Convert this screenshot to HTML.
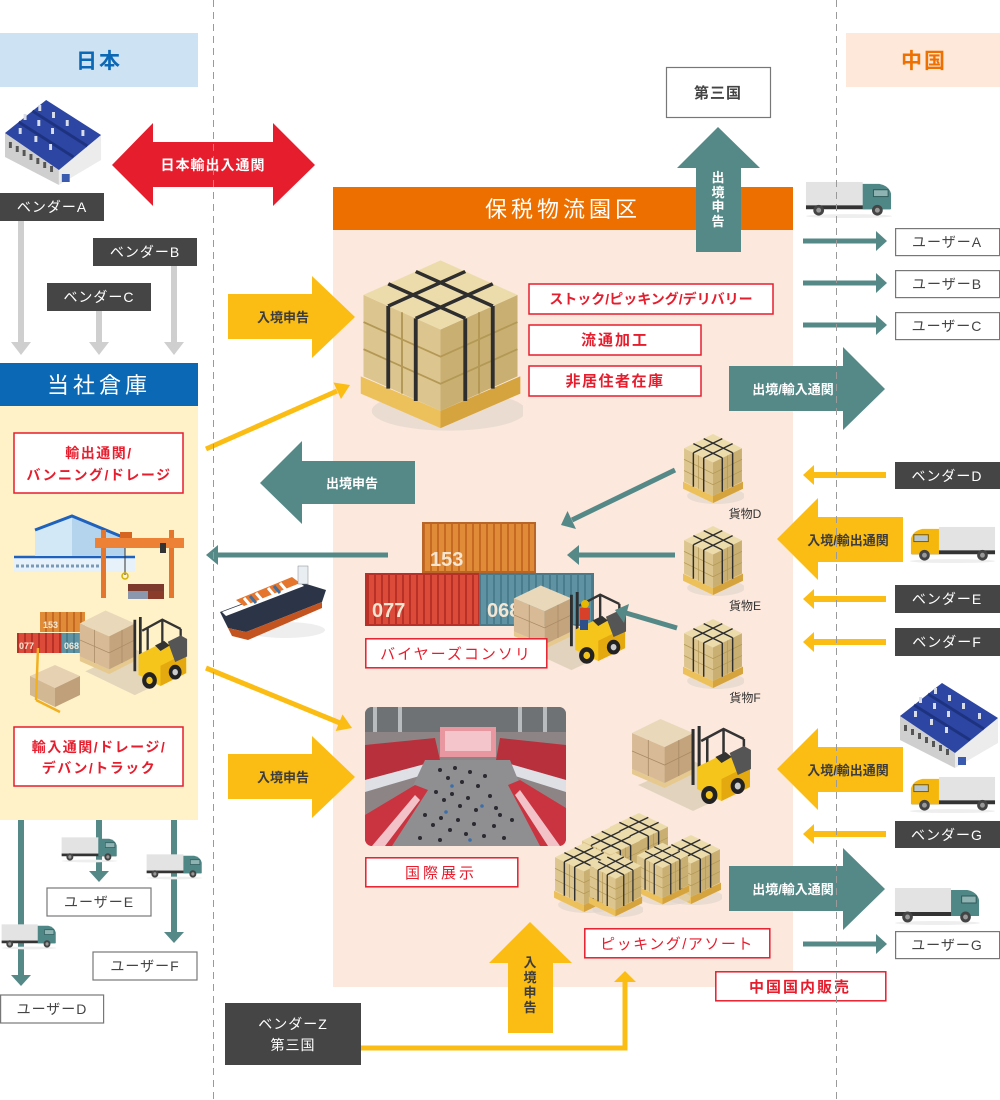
<!DOCTYPE html>
<html><head><meta charset="utf-8">
<style>
html,body{margin:0;padding:0;background:#fff;}
svg{display:block;}
text{font-family:"Liberation Sans","Noto Sans CJK JP",sans-serif;}
</style></head><body>
<svg width="1000" height="1100" viewBox="0 0 1000 1100" xmlns="http://www.w3.org/2000/svg">
<defs>
 <pattern id="ribO" width="7" height="10" patternUnits="userSpaceOnUse"><rect width="7" height="10" fill="#e08b38"/><rect x="3" width="2" height="10" fill="#c56a22"/></pattern>
 <pattern id="ribR" width="7" height="10" patternUnits="userSpaceOnUse"><rect width="7" height="10" fill="#dc4a3a"/><rect x="3" width="2" height="10" fill="#b93026"/></pattern>
 <pattern id="ribB" width="7" height="10" patternUnits="userSpaceOnUse"><rect width="7" height="10" fill="#5f93a3"/><rect x="3" width="2" height="10" fill="#497c8c"/></pattern>
 <symbol id="pal" viewBox="0 0 60 75" preserveAspectRatio="none">
  <ellipse cx="33" cy="64" rx="28" ry="8" fill="#ddd3ca" opacity=".6"/>
  <polygon points="1,50 30,64 59,50 59,57 30,71 1,57" fill="#ecc15c"/>
  <polygon points="30,64 59,50 59,57 30,71" fill="#d6a43f"/>
  <polygon points="2,17 30,31 30,64 2,50" fill="#dcc58e"/>
  <polygon points="30,31 58,17 58,50 30,64" fill="#c9b072"/>
  <polygon points="30,3 58,17 30,31 2,17" fill="#eddcab"/>
  <path d="M2,28 L30,42 L58,28 M2,39 L30,53 L58,39 M16,24 V57 M44,24 V57" stroke="#b39856" stroke-width="0.7" fill="none"/>
  <path d="M11,21.5 V55 M21,26.5 V60 M39,26.5 V60 M49,21.5 V55 M11,21.5 L39,7.5 M21,26.5 L49,12.5 M39,26.5 L11,12.5 M49,21.5 L21,7.5" stroke="#2e2e2e" stroke-width="1.4" fill="none"/>
 </symbol>
 <symbol id="fork" viewBox="0 0 120 100" preserveAspectRatio="none">
  <polygon points="8,72 62,48 116,72 62,98" fill="#d9ccb6" opacity=".75"/>
  <polygon points="2,56 34,70 62,56 62,61 34,75 2,61" fill="#e6c98f"/>
  <polygon points="2,20 34,34 34,70 2,56" fill="#d8bb96"/>
  <polygon points="34,34 62,20 62,56 34,70" fill="#c4a47c"/>
  <polygon points="2,20 30,6 62,20 34,34" fill="#ead8ba"/>
  <path d="M2,38 L34,52 L62,38 M18,27 V63 M48,27 V63" stroke="#a88a66" stroke-width="0.8" fill="none"/>
  <path d="M62,16 V72 M68,13 V69" stroke="#2e2e2e" stroke-width="3"/>
  <path d="M70,28 L92,16 L112,26 M92,16 V54 M112,26 V62 M76,25 V58" stroke="#333" stroke-width="2.5" fill="none"/>
  <polygon points="66,54 94,40 118,52 118,74 90,88 66,76" fill="#f6c51b"/>
  <polygon points="90,66 118,52 118,74 90,88" fill="#e3a90f"/>
  <polygon points="98,40 112,33 119,37 119,56 106,62" fill="#555"/>
  <polygon points="84,44 94,39 100,44 90,50" fill="#333"/>
  <ellipse cx="78" cy="82" rx="8" ry="9" fill="#222"/><ellipse cx="78" cy="82" rx="3.5" ry="4" fill="#f6c51b"/>
  <ellipse cx="106" cy="73" rx="7" ry="8" fill="#222"/><ellipse cx="106" cy="73" rx="3" ry="3.5" fill="#ccc"/>
 </symbol>
 <symbol id="truckT" viewBox="0 0 90 40" preserveAspectRatio="none">
  <ellipse cx="45" cy="37" rx="44" ry="2" fill="#eeeeee"/>
  <rect x="1" y="2" width="58" height="25" fill="#e3e3e3"/>
  <rect x="1" y="26" width="86" height="4" fill="#333"/>
  <path d="M59,4 H76 Q86,6 88,14 V30 H59 Z" fill="#4f8786"/>
  <rect x="70" y="10" width="15" height="7" fill="#8fb3b3" stroke="#2f5a5a" stroke-width="1"/>
  <circle cx="14" cy="31" r="5.5" fill="#444"/><circle cx="14" cy="31" r="2.5" fill="#999"/>
  <circle cx="74" cy="31" r="5.5" fill="#444"/><circle cx="74" cy="31" r="2.5" fill="#999"/>
 </symbol>
 <symbol id="truckY" viewBox="0 0 90 40" preserveAspectRatio="none">
  <ellipse cx="45" cy="37" rx="44" ry="2" fill="#eeeeee"/>
  <rect x="31" y="2" width="58" height="25" fill="#e3e3e3"/>
  <rect x="3" y="26" width="86" height="4" fill="#333"/>
  <path d="M31,4 H14 Q4,6 2,14 V30 H31 Z" fill="#f6b70d"/>
  <rect x="5" y="10" width="15" height="7" fill="#b9c6cc" stroke="#7a5a00" stroke-width="1"/>
  <circle cx="16" cy="31" r="5.5" fill="#444"/><circle cx="16" cy="31" r="2.5" fill="#999"/>
  <circle cx="76" cy="31" r="5.5" fill="#444"/><circle cx="76" cy="31" r="2.5" fill="#999"/>
 </symbol>
 <symbol id="factory" viewBox="0 0 100 85" preserveAspectRatio="none">
  <polygon points="0,33 55,70 55,85 0,57" fill="#cfcfcf"/>
  <polygon points="55,70 98,35 98,60 55,85" fill="#ececec"/>
  <polygon points="0,33 42,0 98,35 55,70" fill="#2d46a4"/>
  <path d="M14,22 L70,57 M28,11 L84,46" stroke="#1e3380" stroke-width="3"/>
  <g fill="#d8dde8">
   <rect x="19" y="14" width="3" height="6"/><rect x="33" y="20" width="3" height="6"/><rect x="47" y="28" width="3" height="6"/>
   <rect x="34" y="5" width="3" height="6"/><rect x="48" y="12" width="3" height="6"/><rect x="62" y="20" width="3" height="6"/>
   <rect x="14" y="28" width="3" height="6"/><rect x="30" y="36" width="3" height="6"/><rect x="45" y="44" width="3" height="6"/><rect x="78" y="30" width="3" height="6"/>
  </g>
  <g fill="#555">
   <rect x="4" y="42" width="3" height="6"/><rect x="11" y="46" width="3" height="6"/><rect x="18" y="50" width="3" height="6"/><rect x="25" y="54" width="3" height="6"/><rect x="32" y="58" width="3" height="6"/><rect x="39" y="62" width="3" height="6"/><rect x="46" y="66" width="3" height="6"/>
  </g>
  <rect x="58" y="74" width="8" height="8" fill="#3a5ab0"/>
 </symbol>
</defs>

<!-- region headers -->
<rect x="0" y="33" width="198" height="54" fill="#cde2f2"/>
<text x="99" y="68" font-size="21" font-weight="bold" fill="#0b68b6" text-anchor="middle" letter-spacing="2">日本</text>
<rect x="846" y="33" width="154" height="54" fill="#fde8da"/>
<text x="924" y="68" font-size="21" font-weight="bold" fill="#ee7000" text-anchor="middle" letter-spacing="2">中国</text>

<!-- left: factory & vendors -->
<use href="#factory" x="5" y="100" width="98" height="85"/>
<path d="M21,220 V343 M99,311 V343 M174,266 V343" stroke="#cfcfcf" stroke-width="6"/>
<polygon points="11,342 31,342 21,355" fill="#cfcfcf"/>
<polygon points="89,342 109,342 99,355" fill="#cfcfcf"/>
<polygon points="164,342 184,342 174,355" fill="#cfcfcf"/>
<rect x="0" y="193" width="104" height="28" fill="#454545"/>
<text x="52" y="212" font-size="14" fill="#fff" text-anchor="middle" letter-spacing="1">ベンダーA</text>
<rect x="93" y="238" width="104" height="28" fill="#454545"/>
<text x="145" y="257" font-size="14" fill="#fff" text-anchor="middle" letter-spacing="1">ベンダーB</text>
<rect x="47" y="283" width="104" height="28" fill="#454545"/>
<text x="99" y="302" font-size="14" fill="#fff" text-anchor="middle" letter-spacing="1">ベンダーC</text>

<!-- red double arrow -->
<polygon points="112,165 153,123 153,142 273,142 273,123 315,165 273,206 273,187 153,187 153,206" fill="#e61d2d"/>
<text x="213" y="170" font-size="14" font-weight="bold" fill="#fff" text-anchor="middle" letter-spacing="1">日本輸出入通関</text>

<!-- 当社倉庫 -->
<rect x="0" y="363" width="198" height="43" fill="#0b68b4"/>
<text x="99" y="393" font-size="22" fill="#fff" text-anchor="middle" letter-spacing="4">当社倉庫</text>
<rect x="0" y="406" width="198" height="414" fill="#fff2c8"/>
<rect x="14" y="433" width="169" height="60" fill="#fff" stroke="#e61d2d" stroke-width="1.5"/>
<text x="99" y="458" font-size="14" font-weight="bold" fill="#e61d2d" text-anchor="middle" letter-spacing="1.5">輸出通関/</text>
<text x="99" y="480" font-size="14" font-weight="bold" fill="#e61d2d" text-anchor="middle" letter-spacing="1.5">バンニング/ドレージ</text>

<!-- warehouse + crane -->
<polygon points="14,556 135,556 135,572 14,572" fill="#e6f1fa"/>
<path d="M14,557 H135" stroke="#1f62bd" stroke-width="2.5"/>
<path d="M16,566 H100" stroke="#7a9ab8" stroke-width="3" stroke-dasharray="3 2"/>
<polygon points="35,530 72,516 72,556 35,556" fill="#d2e8f7"/>
<polygon points="72,516 125,538 125,556 72,556" fill="#b4d4ee"/>
<path d="M35,530 L72,516 L125,538" stroke="#1f62bd" stroke-width="3" fill="none"/>
<rect x="101" y="530" width="5" height="68" fill="#e4762e"/>
<rect x="169" y="530" width="5" height="68" fill="#e4762e"/>
<rect x="95" y="538" width="89" height="10" fill="#ed8135"/>
<rect x="120" y="532" width="12" height="6" fill="#d56520"/>
<rect x="160" y="543" width="6" height="10" fill="#333"/>
<path d="M125,548 V575" stroke="#333" stroke-width="1"/>
<circle cx="125" cy="576" r="3" fill="none" stroke="#d4b000" stroke-width="1.5"/>
<rect x="128" y="584" width="36" height="7" fill="#7d3a2c"/>
<rect x="128" y="591" width="20" height="8" fill="#8a97ad"/>
<rect x="148" y="591" width="16" height="8" fill="#8b3b2a"/>

<!-- left containers + forklift -->
<rect x="40" y="612" width="45" height="20" fill="url(#ribO)"/>
<text x="43" y="628" font-size="9" font-weight="bold" fill="#f5e8d5">153</text>
<rect x="17" y="633" width="45" height="20" fill="url(#ribR)"/>
<text x="19" y="649" font-size="9" font-weight="bold" fill="#f5e8d5">077</text>
<rect x="62" y="633" width="20" height="20" fill="url(#ribB)"/>
<text x="64" y="649" font-size="9" font-weight="bold" fill="#f5e8d5">068</text>
<use href="#fork" x="78" y="605" width="110" height="92"/>
<polygon points="30,676 55,665 80,676 55,688" fill="#e6d2b2"/>
<polygon points="30,676 55,688 55,707 30,695" fill="#d3b894"/>
<polygon points="55,688 80,676 80,695 55,707" fill="#bfa07a"/>
<path d="M38,648 L36,700 M36,700 L60,712" stroke="#f0b020" stroke-width="2.5" fill="none"/>

<rect x="14" y="727" width="169" height="59" fill="#fff" stroke="#e61d2d" stroke-width="1.5"/>
<text x="99" y="752" font-size="14" font-weight="bold" fill="#e61d2d" text-anchor="middle" letter-spacing="1.5">輸入通関/ドレージ/</text>
<text x="99" y="773" font-size="14" font-weight="bold" fill="#e61d2d" text-anchor="middle" letter-spacing="1.5">デバン/トラック</text>

<!-- bottom-left teal arrows -->
<path d="M21,820 V977 M99,820 V873 M174,820 V934" stroke="#558988" stroke-width="6"/>
<polygon points="11,975 31,975 21,986" fill="#558988"/>
<polygon points="89,871 109,871 99,882" fill="#558988"/>
<polygon points="164,932 184,932 174,943" fill="#558988"/>
<use href="#truckT" x="61" y="836" width="57" height="27"/>
<use href="#truckT" x="146" y="853" width="57" height="27"/>
<use href="#truckT" x="1" y="923" width="56" height="27"/>
<rect x="47" y="888" width="104" height="28" fill="#fff" stroke="#777" stroke-width="1.2"/>
<text x="99" y="907" font-size="14" fill="#444" text-anchor="middle" letter-spacing="1">ユーザーE</text>
<rect x="93" y="952" width="104" height="28" fill="#fff" stroke="#777" stroke-width="1.2"/>
<text x="145" y="971" font-size="14" fill="#444" text-anchor="middle" letter-spacing="1">ユーザーF</text>
<rect x="0.6" y="995" width="103" height="28" fill="#fff" stroke="#777" stroke-width="1.2"/>
<text x="52" y="1014" font-size="14" fill="#444" text-anchor="middle" letter-spacing="1">ユーザーD</text>

<!-- center bonded zone -->
<rect x="333" y="230" width="460" height="757" fill="#fce8dc"/>
<rect x="333" y="187" width="460" height="43" fill="#ec6f00"/>
<text x="563" y="217" font-size="22" fill="#fff" text-anchor="middle" letter-spacing="4">保税物流園区</text>

<!-- 第三国 + up arrow -->
<rect x="666.5" y="67.5" width="104" height="50" fill="#fff" stroke="#777" stroke-width="1.2"/>
<text x="718" y="98" font-size="15" font-weight="bold" fill="#444" text-anchor="middle" letter-spacing="1">第三国</text>
<polygon points="696,252 696,168 677,168 718,127 760,168 741,168 741,252" fill="#558988"/>
<g font-size="13" font-weight="bold" fill="#fff" text-anchor="middle">
 <text x="718" y="182">出</text><text x="718" y="197">境</text><text x="718" y="211">申</text><text x="718" y="226">告</text>
</g>

<!-- yellow entry arrow 1 -->
<polygon points="228,294 312,294 312,276 355,317 312,358 312,339 228,339" fill="#fbbd13"/>
<text x="283" y="322" font-size="13" font-weight="bold" fill="#3d3d3d" text-anchor="middle">入境申告</text>

<!-- big pallet -->
<use href="#pal" x="358" y="253" width="165" height="185"/>

<!-- red service boxes -->
<rect x="529" y="284" width="244" height="30" fill="#fff" stroke="#e61d2d" stroke-width="1.5"/>
<text x="651" y="304" font-size="14" font-weight="bold" fill="#e61d2d" text-anchor="middle">ストック/ピッキング/デリバリー</text>
<rect x="529" y="325" width="172" height="30" fill="#fff" stroke="#e61d2d" stroke-width="1.5"/>
<text x="615" y="345" font-size="15" font-weight="bold" fill="#e61d2d" text-anchor="middle" letter-spacing="2">流通加工</text>
<rect x="529" y="366" width="172" height="30" fill="#fff" stroke="#e61d2d" stroke-width="1.5"/>
<text x="615" y="386" font-size="15" font-weight="bold" fill="#e61d2d" text-anchor="middle" letter-spacing="1.5">非居住者在庫</text>

<!-- right top: truck, users -->
<use href="#truckT" x="805" y="180" width="88" height="39"/>
<path d="M803,241 H878 M803,283 H878 M803,325 H878" stroke="#558988" stroke-width="5"/>
<polygon points="876,231 887,241 876,251" fill="#558988"/>
<polygon points="876,273 887,283 876,293" fill="#558988"/>
<polygon points="876,315 887,325 876,335" fill="#558988"/>
<rect x="895.6" y="228.6" width="104" height="27" fill="#fff" stroke="#777" stroke-width="1.2"/>
<text x="947" y="247" font-size="14" fill="#444" text-anchor="middle" letter-spacing="1">ユーザーA</text>
<rect x="895.6" y="270.6" width="104" height="27" fill="#fff" stroke="#777" stroke-width="1.2"/>
<text x="947" y="289" font-size="14" fill="#444" text-anchor="middle" letter-spacing="1">ユーザーB</text>
<rect x="895.6" y="312.6" width="104" height="27" fill="#fff" stroke="#777" stroke-width="1.2"/>
<text x="947" y="331" font-size="14" fill="#444" text-anchor="middle" letter-spacing="1">ユーザーC</text>

<polygon points="729,366 843,366 843,347 885,389 843,430 843,411 729,411" fill="#558988"/>
<text x="793" y="394" font-size="13" font-weight="bold" fill="#fff" text-anchor="middle">出境/輸入通関</text>

<!-- yellow diagonal lines -->
<path d="M206,449 L337,391" stroke="#fbbd13" stroke-width="5"/>
<polygon points="350,385 341,399 333.5,382.5" fill="#fbbd13"/>
<path d="M206,668 L340,723" stroke="#fbbd13" stroke-width="5"/>
<polygon points="352,728 335.7,731 342.5,714.4" fill="#fbbd13"/>

<!-- 出境申告 left arrow -->
<polygon points="415,461 302,461 302,441 260,483 302,524 302,504 415,504" fill="#558988"/>
<text x="352" y="488" font-size="13" font-weight="bold" fill="#fff" text-anchor="middle">出境申告</text>

<!-- thin teal to ship -->
<path d="M388,555 H216" stroke="#558988" stroke-width="5"/>
<polygon points="206,555 218,545 218,565" fill="#558988"/>

<!-- ship -->
<ellipse cx="285" cy="630" rx="40" ry="8" fill="#eeeeee"/>
<polygon points="220,612 300,582 326,590 322,602 246,632 228,628" fill="#2b3547"/>
<polygon points="228,628 246,632 322,602 322,608 248,640 232,636" fill="#c4541f"/>
<polygon points="222,612 300,583 304,586 226,616" fill="#fff"/>
<polygon points="236,600 292,577 300,583 244,606" fill="#e4762e"/>
<path d="M244,598 L250,605 M256,593 L262,600 M268,588 L274,595 M280,583 L286,590" stroke="#fff" stroke-width="3"/>
<path d="M250,596 L256,603 M274,586 L280,593" stroke="#3f6ea0" stroke-width="3"/>
<rect x="298" y="566" width="10" height="18" fill="#e8eef2" stroke="#888" stroke-width=".5"/>

<!-- containers center -->
<rect x="423" y="523" width="112" height="49" fill="url(#ribO)" stroke="#b8652a" stroke-width="2"/>
<text x="430" y="566" font-size="20" font-weight="bold" fill="#f4e6d2">153</text>
<rect x="366" y="574" width="113" height="51" fill="url(#ribR)" stroke="#b83028" stroke-width="2"/>
<text x="372" y="617" font-size="20" font-weight="bold" fill="#f4e6d2">077</text>
<rect x="480" y="574" width="113" height="51" fill="url(#ribB)" stroke="#4a7a8a" stroke-width="2"/>
<text x="487" y="617" font-size="20" font-weight="bold" fill="#f4e6d2">068</text>
<use href="#fork" x="512" y="580" width="115" height="92"/>
<circle cx="585" cy="604" r="4" fill="#e9b800"/>
<rect x="580" y="608" width="10" height="12" fill="#d8402a"/>
<rect x="580" y="620" width="8" height="10" fill="#2f4f8a"/>
<rect x="365.8" y="638.8" width="181" height="29" fill="#fff" stroke="#e61d2d" stroke-width="1.5"/>
<text x="456" y="659" font-size="15" fill="#e61d2d" text-anchor="middle" letter-spacing="2">バイヤーズコンソリ</text>

<!-- goods D E F -->
<use href="#pal" x="682" y="431" width="62" height="76"/>
<use href="#pal" x="682" y="523" width="62" height="76"/>
<use href="#pal" x="682" y="616" width="62" height="76"/>
<g font-size="12" fill="#333" text-anchor="middle">
 <text x="745" y="518">貨物D</text><text x="745" y="610">貨物E</text><text x="745" y="702">貨物F</text>
</g>
<path d="M675,470 L572,520" stroke="#558988" stroke-width="5"/>
<polygon points="561,525 576,529 567.5,511" fill="#558988"/>
<path d="M675,555 H577" stroke="#558988" stroke-width="5"/>
<polygon points="567,555 579,545 579,565" fill="#558988"/>
<path d="M677,628 L626,613" stroke="#558988" stroke-width="5"/>
<polygon points="615,610 629,604 624,623" fill="#558988"/>

<!-- right vendors -->
<path d="M886,475 H812 M886,599 H812 M886,642 H812 M886,834 H812" stroke="#fbbd13" stroke-width="6"/>
<polygon points="814,465 803,475 814,485" fill="#fbbd13"/>
<polygon points="814,589 803,599 814,609" fill="#fbbd13"/>
<polygon points="814,632 803,642 814,652" fill="#fbbd13"/>
<polygon points="814,824 803,834 814,844" fill="#fbbd13"/>
<rect x="895" y="462" width="105" height="27" fill="#454545"/>
<text x="947" y="481" font-size="14" fill="#fff" text-anchor="middle" letter-spacing="1">ベンダーD</text>
<rect x="895" y="585" width="105" height="28" fill="#454545"/>
<text x="947" y="604" font-size="14" fill="#fff" text-anchor="middle" letter-spacing="1">ベンダーE</text>
<rect x="895" y="628" width="105" height="28" fill="#454545"/>
<text x="947" y="647" font-size="14" fill="#fff" text-anchor="middle" letter-spacing="1">ベンダーF</text>
<rect x="895" y="821" width="105" height="27" fill="#454545"/>
<text x="947" y="840" font-size="14" fill="#fff" text-anchor="middle" letter-spacing="1">ベンダーG</text>

<polygon points="903,517 818,517 818,498 777,539 818,580 818,562 903,562" fill="#fbbd13"/>
<text x="848" y="545" font-size="13" font-weight="bold" fill="#3d3d3d" text-anchor="middle">入境/輸出通関</text>
<use href="#truckY" x="909" y="525" width="87" height="39"/>
<polygon points="903,747 818,747 818,728 777,769 818,810 818,792 903,792" fill="#fbbd13"/>
<text x="848" y="775" font-size="13" font-weight="bold" fill="#3d3d3d" text-anchor="middle">入境/輸出通関</text>
<use href="#factory" x="900" y="683" width="100" height="85"/>
<use href="#truckY" x="909" y="775" width="87" height="39"/>

<!-- exhibition photo -->
<clipPath id="phc"><rect x="365" y="707" width="201" height="139" rx="7"/></clipPath>
<g clip-path="url(#phc)">
 <rect x="365" y="707" width="201" height="139" fill="#8d8585"/>
 <rect x="365" y="707" width="201" height="25" fill="#6f7275"/>
 <path d="M375,707 V732 M400,707 V732 M520,707 V732 M545,707 V732" stroke="#b8bcbf" stroke-width="4"/>
 <rect x="440" y="727" width="56" height="30" fill="#e896a0"/>
 <rect x="445" y="731" width="46" height="20" fill="#f4c6cc"/>
 <polygon points="365,745 435,738 440,760 365,780" fill="#b8303b"/>
 <polygon points="500,738 566,745 566,780 496,760" fill="#b8303b"/>
 <polygon points="365,780 440,760 440,770 365,792" fill="#dfe0e6"/>
 <polygon points="496,760 566,780 566,792 496,770" fill="#dfe0e6"/>
 <polygon points="425,760 510,760 545,846 385,846" fill="#8f8f92"/>
 <polygon points="365,815 415,785 428,790 392,846 365,846" fill="#c93440"/>
 <polygon points="508,785 520,780 566,808 566,846 540,846" fill="#c93440"/>
 <polygon points="372,846 415,795 420,800 385,846" fill="#f2c2c8"/>
 <polygon points="515,795 520,790 560,846 548,846" fill="#f2c2c8"/>
 <g fill="#2a2a30">
  <circle cx="440" cy="770" r="2"/><circle cx="448" cy="778" r="2"/><circle cx="455" cy="768" r="2"/><circle cx="462" cy="782" r="2"/><circle cx="470" cy="772" r="2"/><circle cx="478" cy="786" r="2"/><circle cx="485" cy="776" r="2"/>
  <circle cx="436" cy="792" r="2"/><circle cx="444" cy="800" r="2"/><circle cx="452" cy="794" r="2"/><circle cx="460" cy="806" r="2"/><circle cx="468" cy="798" r="2"/><circle cx="476" cy="810" r="2"/><circle cx="490" cy="796" r="2"/><circle cx="496" cy="808" r="2"/>
  <circle cx="425" cy="815" r="2"/><circle cx="433" cy="825" r="2"/><circle cx="441" cy="818" r="2"/><circle cx="450" cy="830" r="2"/><circle cx="458" cy="820" r="2"/><circle cx="466" cy="834" r="2"/><circle cx="474" cy="824" r="2"/><circle cx="484" cy="836" r="2"/><circle cx="494" cy="826" r="2"/><circle cx="504" cy="838" r="2"/><circle cx="512" cy="820" r="2"/>
  <circle cx="420" cy="838" r="2"/><circle cx="440" cy="840" r="2"/><circle cx="500" cy="815" r="2"/>
 </g>
 <g fill="#3c6fa8"><circle cx="452" cy="786" r="1.8"/><circle cx="482" cy="806" r="1.8"/><circle cx="446" cy="812" r="1.8"/><circle cx="470" cy="840" r="1.8"/></g>
</g>
<rect x="365.8" y="857.8" width="152" height="29" fill="#fff" stroke="#e61d2d" stroke-width="1.5"/>
<text x="441" y="878" font-size="15" fill="#e61d2d" text-anchor="middle" letter-spacing="3">国際展示</text>

<!-- yellow entry arrow 2 -->
<polygon points="228,754 312,754 312,736 355,777 312,818 312,799 228,799" fill="#fbbd13"/>
<text x="283" y="782" font-size="13" font-weight="bold" fill="#3d3d3d" text-anchor="middle">入境申告</text>

<!-- forklift 2 + pallets -->
<use href="#fork" x="630" y="713" width="122" height="100"/>
<use href="#pal" x="608" y="810" width="62" height="74"/>
<use href="#pal" x="580" y="824" width="62" height="74"/>
<use href="#pal" x="660" y="832" width="62" height="76"/>
<use href="#pal" x="635" y="840" width="55" height="68"/>
<use href="#pal" x="553" y="840" width="62" height="76"/>
<use href="#pal" x="588" y="850" width="55" height="70"/>

<rect x="584.8" y="928.8" width="185" height="29" fill="#fff" stroke="#e61d2d" stroke-width="1.5"/>
<text x="677" y="949" font-size="15" fill="#e61d2d" text-anchor="middle" letter-spacing="1.5">ピッキング/アソート</text>

<polygon points="729,866 843,866 843,848 885,889 843,930 843,911 729,911" fill="#558988"/>
<text x="793" y="894" font-size="13" font-weight="bold" fill="#fff" text-anchor="middle">出境/輸入通関</text>
<use href="#truckT" x="894" y="886" width="87" height="40"/>
<path d="M803,944 H878" stroke="#558988" stroke-width="5"/>
<polygon points="876,934 887,944 876,954" fill="#558988"/>
<rect x="895.6" y="931.6" width="104" height="27" fill="#fff" stroke="#777" stroke-width="1.2"/>
<text x="947" y="950" font-size="14" fill="#444" text-anchor="middle" letter-spacing="1">ユーザーG</text>
<rect x="715.8" y="971.8" width="170" height="29" fill="#fff" stroke="#e61d2d" stroke-width="1.5"/>
<text x="800" y="992" font-size="15" font-weight="bold" fill="#e61d2d" text-anchor="middle" letter-spacing="2">中国国内販売</text>

<!-- bottom: vendor Z -->
<polygon points="508,1033 508,963 489,963 530,922 572,963 553,963 553,1033" fill="#fbbd13"/>
<g font-size="13" font-weight="bold" fill="#3d3d3d" text-anchor="middle">
 <text x="530" y="967">入</text><text x="530" y="982">境</text><text x="530" y="997">申</text><text x="530" y="1012">告</text>
</g>
<path d="M361,1048 H625 V981" stroke="#fbbd13" stroke-width="5" fill="none"/>
<polygon points="614,982 625,971 636,982" fill="#fbbd13"/>
<rect x="225" y="1003" width="136" height="62" fill="#454545"/>
<text x="293" y="1029" font-size="14" fill="#fff" text-anchor="middle" letter-spacing="1">ベンダーZ</text>
<text x="293" y="1050" font-size="14" fill="#fff" text-anchor="middle" letter-spacing="1">第三国</text>

<!-- dashed borders -->
<path d="M213.5,0 V1100 M836.5,0 V1100" stroke="#9a9a9a" stroke-width="1" stroke-dasharray="7 5"/>
</svg>
</body></html>
